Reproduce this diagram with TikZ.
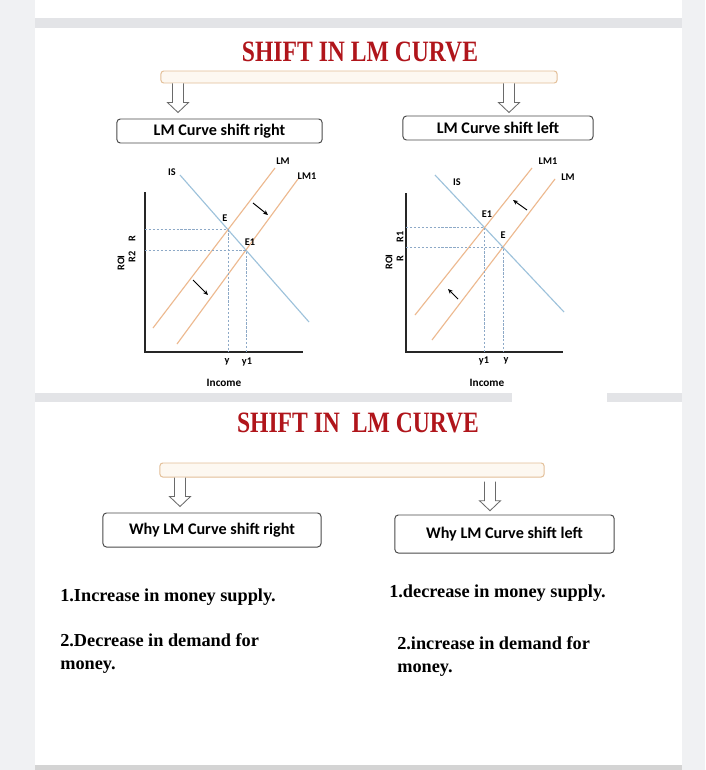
\documentclass[tikz,border=0pt]{standalone}
\usepackage{fontspec}
\setmainfont{Liberation Serif}
\setsansfont{Carlito}
\usepackage{xcolor}
\usetikzlibrary{arrows.meta, positioning, intersections}

\definecolor{pagegray}{HTML}{F0F1F3}
\definecolor{bandgray}{HTML}{E3E4E7}
\definecolor{titlered}{HTML}{B0151B}
\definecolor{barfill}{HTML}{FDF8F1}
\definecolor{baredge}{HTML}{E3BF98}
\definecolor{boxedge}{HTML}{4A4A4A}
\definecolor{arrowgray}{HTML}{6A6A6A}
\definecolor{isblue}{HTML}{9DC2DB}
\definecolor{lmtan}{HTML}{EDB98F}
\definecolor{dashblue}{HTML}{8DA9C7}

\newcommand{\titletext}[1]{\scalebox{0.8}[1]{#1}}

\tikzset{
  headline/.style={font=\fontsize{21}{21}\selectfont\bfseries, text=titlered,
                   inner sep=0pt},
  bar/.style={rectangle, draw=baredge, fill=barfill, rounded corners=2pt,
              line width=0.7pt, inner sep=0pt},
  casebox/.style={rectangle, draw=boxedge, fill=white, rounded corners=2.5pt,
                  line width=0.7pt, inner sep=0pt,
                  font=\sffamily\bfseries\fontsize{11.5}{12}\selectfont},
  reason/.style={font=\fontsize{13}{16.5}\selectfont\bfseries, align=left,
                 inner sep=0pt},
  plotlabel/.style={font=\sffamily\bfseries\fontsize{7.3}{8}\selectfont,
                    inner sep=0pt},
  axisline/.style={line width=0.8pt, black!85},
  isline/.style={line width=0.8pt, isblue},
  lmline/.style={line width=0.8pt, lmtan},
  guide/.style={dash pattern=on 1.6pt off 1.2pt, line width=0.5pt, dashblue},
  shiftarrow/.style={-{Stealth[length=3.5pt, width=3pt]}, line width=0.7pt},
  hollowdown/.pic={
    \draw[line width=0.6pt, draw=arrowgray, fill=white]
      (-5.5,0) -- (-5.5,19) -- (-10.5,19) -- (0,29) -- (10.5,19)
      -- (5.5,19) -- (5.5,0);
  },
}

\begin{document}
\begin{tikzpicture}[x=0.025cm, y=-0.025cm]
  % page and panels
  \useasboundingbox (0,0) rectangle (705,770);
  \fill[pagegray] (0,0) rectangle (705,770);
  \fill[white] (35,0) rectangle (682,18);
  \fill[bandgray] (35,18) rectangle (682,28);
  \fill[white] (35,28) rectangle (682,765);
  \fill[bandgray] (35,393) rectangle (512,402);
  \fill[bandgray] (607,393) rectangle (682,402);
  \fill[black!17] (35,765) rectangle (682,770);

  % upper part: headline, bar, cases
  \node[headline] (title1) at (360,52) {\titletext{SHIFT IN LM CURVE}};
  \node[bar, minimum width=9.9cm, minimum height=0.3cm] (bar1) at (359,77) {};
  \node[casebox, minimum width=5.13cm, minimum height=0.6cm] (right1)
    at (219.5,131) {LM Curve shift right};
  \node[casebox, minimum width=4.75cm, minimum height=0.6cm] (left1)
    at (498,128) {LM Curve shift left};
  \pic at (bar1.south -| 178,0) {hollowdown};
  \pic at (bar1.south -| 509,0) {hollowdown};

  % graph: LM shifts right
  \coordinate (o1) at (145,352);
  \draw[axisline] (145,192) -- (o1) -- (303,352);
  \draw[isline, name path=is1] (180,175) -- (309,322);
  \draw[lmline, name path=lma] (153,328) -- (275,168);
  \draw[lmline, name path=lmb] (177,344) -- (298,179);
  \path[name intersections={of=is1 and lma, by=e1}];
  \path[name intersections={of=is1 and lmb, by=e2}];
  \draw[guide] (e1 -| o1) -- (e1) -- (e1 |- o1);
  \draw[guide] (e2 -| o1) -- (e2) -- (e2 |- o1);
  \draw[shiftarrow] (253,203) -- (268,215);
  \draw[shiftarrow] (193,280) -- (208,295);
  \node[plotlabel] (lblis1) at (172,172) {IS};
  \node[plotlabel] (lbllm1) at (283,161) {LM};
  \node[plotlabel] (lbllma1) at (307,176) {LM1};
  \node[plotlabel] (lble1) at (225,218) {E};
  \node[plotlabel] (lblee1) at (250,242) {E1};
  \node[plotlabel] (lbly1) at (227,362) {y};
  \node[plotlabel] (lblyy1) at (247,362) {y1};
  \node[plotlabel, font=\sffamily\bfseries\fontsize{8}{8}\selectfont]
    (income1) at (224,383) {Income};
  \node[plotlabel, rotate=90] (roi1) at (121,263) {ROI};
  \node[plotlabel, rotate=90] (rr1) at (132,239) {R};
  \node[plotlabel, rotate=90] (rtwo1) at (132,257) {R2};

  % graph: LM shifts left
  \coordinate (o2) at (406,352);
  \draw[axisline] (406,193) -- (o2) -- (563,352);
  \draw[isline, name path=is2] (435,175) -- (564,312);
  \draw[lmline, name path=lmc] (415,315) -- (532,168);
  \draw[lmline, name path=lmd] (432,340) -- (555,179);
  \path[name intersections={of=is2 and lmc, by=e3}];
  \path[name intersections={of=is2 and lmd, by=e4}];
  \draw[guide] (e3 -| o2) -- (e3) -- (e3 |- o2);
  \draw[guide] (e4 -| o2) -- (e4) -- (e4 |- o2);
  \draw[shiftarrow] (527,210) -- (513,200);
  \draw[shiftarrow] (458,299) -- (448,289);
  \node[plotlabel] (lblis2) at (457,182) {IS};
  \node[plotlabel] (lbllm2) at (568,177) {LM};
  \node[plotlabel] (lbllma2) at (548,161) {LM1};
  \node[plotlabel] (lble2) at (503,235) {E};
  \node[plotlabel] (lblee2) at (487,214) {E1};
  \node[plotlabel] (lbly2) at (506,361) {y};
  \node[plotlabel] (lblyy2) at (484,361) {y1};
  \node[plotlabel, font=\sffamily\bfseries\fontsize{8}{8}\selectfont]
    (income2) at (487,383) {Income};
  \node[plotlabel, rotate=90] (roi2) at (389,262) {ROI};
  \node[plotlabel, rotate=90] (rr2) at (400,259) {R};
  \node[plotlabel, rotate=90] (rone2) at (400,237) {R1};

  % lower part: headline, bar, reasons
  \node[headline] (title2) at (358,423) {\titletext{SHIFT IN\ \ LM CURVE}};
  \node[bar, minimum width=9.6cm, minimum height=0.35cm] (bar2) at (352,470) {};
  \node[casebox, minimum width=5.45cm, minimum height=0.85cm] (right2)
    at (212,530) {Why LM Curve shift right};
  \node[casebox, minimum width=5.48cm, minimum height=0.95cm] (left2)
    at (504.5,534) {Why LM Curve shift left};
  \pic at (bar2.south -| 180,0) {hollowdown};
  \pic at ([yshift=-3pt]bar2.south -| 490,0) {hollowdown};

  \node[reason, anchor=west] (up1) at (60,597) {1.Increase in money supply.};
  \node[reason, anchor=north west] (up2) at (60,633)
    {2.Decrease in demand for\\money.};
  \node[reason, anchor=west] (down1) at (389,593) {1.decrease in money supply.};
  \node[reason, anchor=north west] (down2) at (397,636)
    {2.increase in demand for\\money.};
\end{tikzpicture}
\end{document}
